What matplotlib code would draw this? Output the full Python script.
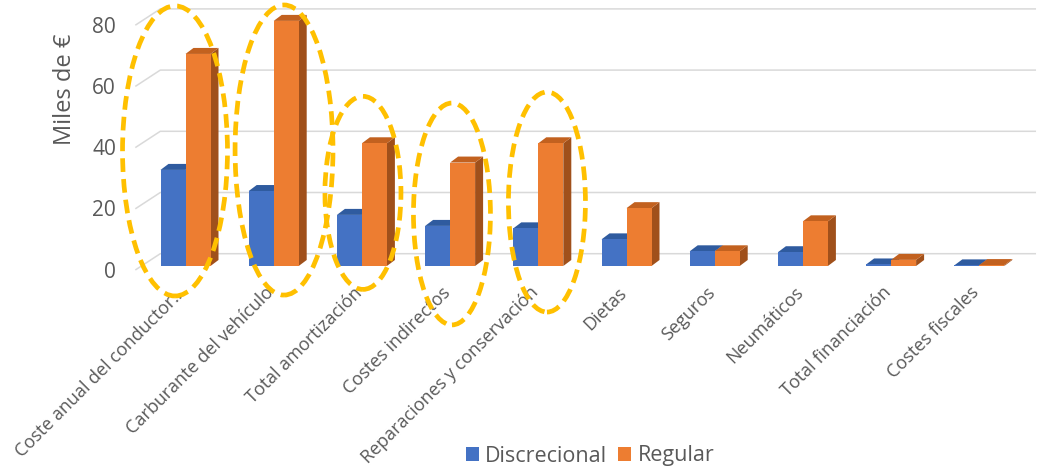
import matplotlib
matplotlib.use("Agg")
import matplotlib.pyplot as plt
from matplotlib.patches import Polygon, Ellipse, Patch

# ---- data -------------------------------------------------------------
categories = ["Coste anual del conductor…", "Carburante del vehículo",
              "Total amortización", "Costes indirectos",
              "Reparaciones y conservación", "Dietas", "Seguros",
              "Neumáticos", "Total financiación", "Costes fiscales"]
discrecional = [31.4, 24.5, 16.7, 13.1, 12.3, 8.7, 4.8, 4.5, 0.5, 0.2]
regular = [69.3, 80.1, 40.1, 33.8, 40.1, 18.9, 4.8, 14.6, 2.0, 0.3]
series_names = ["Discrecional", "Regular"]
y_ticks = [0, 20, 40, 60, 80]
y_label = "Miles de €"
highlighted = [0, 1, 2, 3, 4]   # categories circled with dashed rings

# ---- style ------------------------------------------------------------
FONT = "Open Sans"
TXT = "#595959"
GRID = "#d9d9d9"
FRONT = ["#4472C4", "#ED7D31"]
TOP = ["#2F5B9F", "#C2611F"]
SIDE = ["#2A4F8D", "#A0501B"]
RING = "#FFC000"

W, H, DPI = 1043, 474, 100
fig = plt.figure(figsize=(W / DPI, H / DPI), dpi=DPI)
fig.patch.set_facecolor("white")

# axes frame: one category step = 88.2 px, one value unit = 3.06 px
ax = fig.add_axes([141.4 / W, (H - 266) / H, 882 / W, 260.1 / H])
ax.set_xlim(-0.5, 9.5)
ax.set_ylim(0, 85)
ax.axis("off")

PX_X = 88.2
PX_Y = 3.06

# back-wall gridlines with a slanted side-wall segment
x_front, x_back, x_right = -0.569, -0.286, 9.643
dy_front, dy_back = -4 / PX_Y, 12.3 / PX_Y
for v in y_ticks:
    ax.plot([x_front, x_back, x_right],
            [v + dy_front, v + dy_back, v + dy_back],
            color=GRID, lw=1.1, solid_capstyle="butt", zorder=1,
            clip_on=False)
    ax.text(-0.5 + (116 - 141.4) / PX_X, v + dy_front - 0.7, str(v),
            ha="right", va="center", fontsize=15, color=TXT,
            family=FONT)

ax.text(-0.5 + (65 - 141.4) / PX_X, (266 - 89) / PX_Y, y_label,
        rotation=90, ha="center", va="center", fontsize=17,
        color=TXT, family=FONT, clip_on=False)

# 3D-style columns
bar_w = 25 / PX_X
depth_x = 8 / PX_X
depth_y = 6 / PX_Y
series = [discrecional, regular]
for s, vals in enumerate(series):
    offs = -bar_w / 2 if s == 0 else bar_w / 2
    for i, v in enumerate(vals):
        x0 = i + offs - bar_w / 2
        x1 = x0 + bar_w
        side = Polygon([(x1, 0), (x1 + depth_x, depth_y),
                        (x1 + depth_x, v + depth_y), (x1, v)],
                       closed=True, facecolor=SIDE[s], edgecolor="none",
                       zorder=2 + 2 * s, clip_on=False)
        top = Polygon([(x0, v), (x1, v), (x1 + depth_x, v + depth_y),
                       (x0 + depth_x, v + depth_y)],
                      closed=True, facecolor=TOP[s], edgecolor="none",
                      zorder=2 + 2 * s, clip_on=False)
        ax.add_patch(side)
        ax.add_patch(top)
    ax.bar([i + offs for i in range(len(vals))], vals, width=bar_w,
           color=FRONT[s], edgecolor="none", zorder=3 + 2 * s,
           clip_on=False)

# category labels
for i, name in enumerate(categories):
    ax.text(i - 0.03, (266 - 290) / PX_Y, name, rotation=45,
            rotation_mode="anchor", ha="right", va="center",
            fontsize=13, color=TXT, family=FONT, clip_on=False)

# dashed highlight rings (centre x, centre y, width, height in data units)
rings = [(-0.119, 37.6, 1.19, 94.8),
         (1.117, 37.9, 1.11, 94.8),
         (2.012, 23.9, 0.862, 63.1),
         (3.021, 17.0, 0.873, 72.5),
         (4.098, 20.9, 0.873, 71.9)]
for (cx, cy, ew, eh), idx in zip(rings, highlighted):
    e = Ellipse((cx, cy), ew, eh, fill=False, edgecolor=RING, lw=3.4,
                linestyle=(0, (2.9, 1.5)), zorder=10, clip_on=False)
    e.set_capstyle("butt")
    ax.add_patch(e)

# legend
handles = [Patch(facecolor=FRONT[0], edgecolor="none"),
           Patch(facecolor=FRONT[1], edgecolor="none")]
leg = fig.legend(handles, series_names, loc="center",
                 bbox_to_anchor=(590 / W, 1 - 456 / H), ncol=2,
                 frameon=False, handlelength=0.6, handleheight=0.6,
                 handletextpad=0.3, columnspacing=0.5,
                 prop={"family": FONT, "size": 15.5})
for t in leg.get_texts():
    t.set_color(TXT)

fig.savefig("out.png", dpi=DPI)
